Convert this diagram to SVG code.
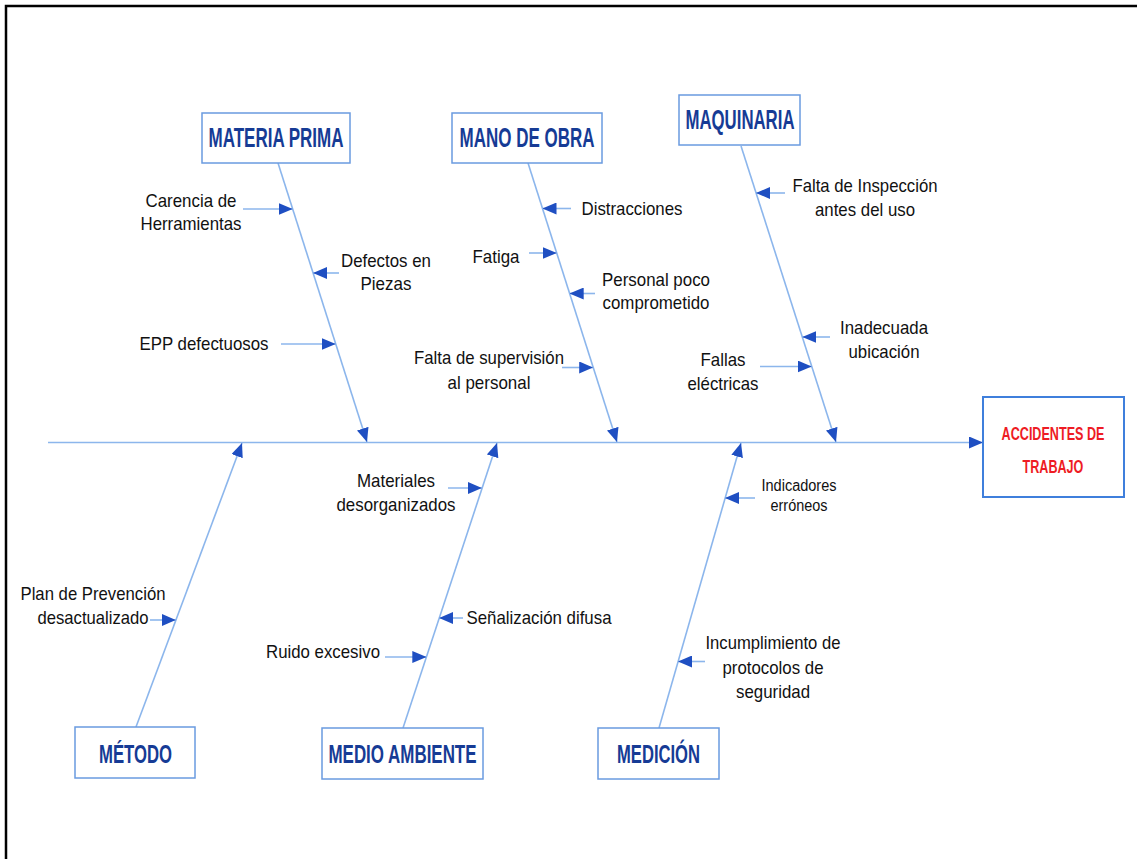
<svg xmlns="http://www.w3.org/2000/svg" width="1137" height="859" viewBox="0 0 1137 859">
<style>
.box{fill:#fff;stroke:#6a9be0;stroke-width:1.5}
.ttl{font-family:"Liberation Sans",Arial,sans-serif;font-weight:bold;fill:#163b95;text-anchor:middle}
.red{font-family:"Liberation Sans",Arial,sans-serif;font-weight:bold;fill:#ee1c24;text-anchor:middle;font-size:18px}
.lbl{font-family:"Liberation Sans",Arial,sans-serif;font-size:19px;fill:#111;text-anchor:middle}
.ar{stroke:#8cb6ec;stroke-width:1.6;fill:none;marker-end:url(#ah)}
</style>
<defs>
<marker id="ah" markerUnits="userSpaceOnUse" markerWidth="14" markerHeight="12" refX="14" refY="6" orient="auto">
<path d="M0,0 L14,6 L0,12 z" fill="#1f4fc2"/>
</marker>
</defs>
<rect x="6" y="6" width="1150" height="880" fill="#fff" stroke="#000" stroke-width="2.5"/>

<g id="connectors">
<line class="ar" x1="48" y1="442.5" x2="983" y2="442.5"/>
<line class="ar" x1="278" y1="163" x2="367" y2="442"/>
<line class="ar" x1="528" y1="163" x2="617" y2="442"/>
<line class="ar" x1="741" y1="146" x2="836" y2="442"/>
<line class="ar" x1="136" y1="727" x2="242" y2="443"/>
<line class="ar" x1="403" y1="728" x2="497" y2="443"/>
<line class="ar" x1="659" y1="728" x2="741" y2="443"/>
<line class="ar" x1="243" y1="209" x2="292.7" y2="209"/>
<line class="ar" x1="339" y1="273" x2="313" y2="273"/>
<line class="ar" x1="281" y1="344" x2="335.7" y2="344"/>
<line class="ar" x1="571" y1="208.5" x2="542.5" y2="208.5"/>
<line class="ar" x1="529" y1="253" x2="556.7" y2="253"/>
<line class="ar" x1="595" y1="293.5" x2="569.7" y2="293.5"/>
<line class="ar" x1="562" y1="367.5" x2="593.2" y2="367.5"/>
<line class="ar" x1="785" y1="193" x2="756" y2="193"/>
<line class="ar" x1="830" y1="337" x2="802.3" y2="337"/>
<line class="ar" x1="760" y1="366.5" x2="811.7" y2="366.5"/>
<line class="ar" x1="150" y1="620" x2="175.8" y2="620"/>
<line class="ar" x1="448" y1="488" x2="481.9" y2="488"/>
<line class="ar" x1="463" y1="618" x2="439.1" y2="618"/>
<line class="ar" x1="385" y1="657" x2="426.3" y2="657"/>
<line class="ar" x1="755" y1="498" x2="725" y2="498"/>
<line class="ar" x1="705" y1="661.5" x2="678" y2="661.5"/>
</g>

<g id="materia-prima">
<rect class="box" x="202" y="113" width="148" height="50"/>
<text class="ttl" x="276" y="147" font-size="27" textLength="135" lengthAdjust="spacingAndGlyphs">MATERIA PRIMA</text>
</g>
<g id="mano-de-obra">
<rect class="box" x="452" y="113" width="150" height="50"/>
<text class="ttl" x="527" y="147" font-size="27" textLength="135" lengthAdjust="spacingAndGlyphs">MANO DE OBRA</text>
</g>
<g id="maquinaria">
<rect class="box" x="679" y="95" width="121" height="50"/>
<text class="ttl" x="740" y="129" font-size="27" textLength="109" lengthAdjust="spacingAndGlyphs">MAQUINARIA</text>
</g>
<g id="metodo">
<rect class="box" x="75" y="727" width="120" height="51"/>
<text class="ttl" x="135.5" y="763" font-size="25" textLength="73" lengthAdjust="spacingAndGlyphs">MÉTODO</text>
</g>
<g id="medio-ambiente">
<rect class="box" x="322" y="728" width="161" height="51"/>
<text class="ttl" x="402.5" y="763" font-size="25" textLength="148" lengthAdjust="spacingAndGlyphs">MEDIO AMBIENTE</text>
</g>
<g id="medicion">
<rect class="box" x="598" y="728" width="121" height="51"/>
<text class="ttl" x="658.5" y="763" font-size="25" textLength="83" lengthAdjust="spacingAndGlyphs">MEDICIÓN</text>
</g>
<g id="accidentes">
<rect x="983" y="397" width="141" height="100" fill="#fff" stroke="#3f7fdc" stroke-width="2"/>
<text class="red" transform="translate(1053,440) scale(0.7,1)">ACCIDENTES DE</text>
<text class="red" transform="translate(1053,473) scale(0.7,1)">TRABAJO</text>
</g>

<g id="labels">
<g id="carencia"><text class="lbl" x="191" y="207" textLength="91" lengthAdjust="spacingAndGlyphs">Carencia de</text><text class="lbl" x="191" y="230" textLength="101" lengthAdjust="spacingAndGlyphs">Herramientas</text></g>
<g id="defectos"><text class="lbl" x="386" y="267" textLength="90" lengthAdjust="spacingAndGlyphs">Defectos en</text><text class="lbl" x="386" y="290" textLength="51" lengthAdjust="spacingAndGlyphs">Piezas</text></g>
<g id="epp"><text class="lbl" x="204" y="350" textLength="129" lengthAdjust="spacingAndGlyphs">EPP defectuosos</text></g>
<g id="distracciones"><text class="lbl" x="632" y="215" textLength="101" lengthAdjust="spacingAndGlyphs">Distracciones</text></g>
<g id="fatiga"><text class="lbl" x="496" y="263" textLength="47" lengthAdjust="spacingAndGlyphs">Fatiga</text></g>
<g id="personal"><text class="lbl" x="656" y="286" textLength="108" lengthAdjust="spacingAndGlyphs">Personal poco</text><text class="lbl" x="656" y="309" textLength="107" lengthAdjust="spacingAndGlyphs">comprometido</text></g>
<g id="supervision"><text class="lbl" x="489" y="364" textLength="150" lengthAdjust="spacingAndGlyphs">Falta de supervisión</text><text class="lbl" x="489" y="389" textLength="83" lengthAdjust="spacingAndGlyphs">al personal</text></g>
<g id="inspeccion"><text class="lbl" x="865" y="192" textLength="145" lengthAdjust="spacingAndGlyphs">Falta de Inspección</text><text class="lbl" x="865" y="216" textLength="100" lengthAdjust="spacingAndGlyphs">antes del uso</text></g>
<g id="ubicacion"><text class="lbl" x="884" y="334" textLength="88" lengthAdjust="spacingAndGlyphs">Inadecuada</text><text class="lbl" x="884" y="358" textLength="71" lengthAdjust="spacingAndGlyphs">ubicación</text></g>
<g id="fallas"><text class="lbl" x="723" y="366" textLength="45" lengthAdjust="spacingAndGlyphs">Fallas</text><text class="lbl" x="723" y="390" textLength="71" lengthAdjust="spacingAndGlyphs">eléctricas</text></g>
<g id="plan"><text class="lbl" x="93" y="600" textLength="145" lengthAdjust="spacingAndGlyphs">Plan de Prevención</text><text class="lbl" x="93" y="624" textLength="111" lengthAdjust="spacingAndGlyphs">desactualizado</text></g>
<g id="materiales"><text class="lbl" x="396" y="487" textLength="78" lengthAdjust="spacingAndGlyphs">Materiales</text><text class="lbl" x="396" y="511" textLength="119" lengthAdjust="spacingAndGlyphs">desorganizados</text></g>
<g id="senalizacion"><text class="lbl" x="539" y="624" textLength="145" lengthAdjust="spacingAndGlyphs">Señalización difusa</text></g>
<g id="ruido"><text class="lbl" x="323" y="658" textLength="114" lengthAdjust="spacingAndGlyphs">Ruido excesivo</text></g>
<g id="indicadores"><text class="lbl" x="799" y="491" style="font-size:16px" textLength="75" lengthAdjust="spacingAndGlyphs">Indicadores</text><text class="lbl" x="799" y="511" style="font-size:16px" textLength="57" lengthAdjust="spacingAndGlyphs">erróneos</text></g>
<g id="incumplimiento"><text class="lbl" x="773" y="649" textLength="135" lengthAdjust="spacingAndGlyphs">Incumplimiento de</text><text class="lbl" x="773" y="674" textLength="101" lengthAdjust="spacingAndGlyphs">protocolos de</text><text class="lbl" x="773" y="698" textLength="74" lengthAdjust="spacingAndGlyphs">seguridad</text></g>
</g>
</svg>
